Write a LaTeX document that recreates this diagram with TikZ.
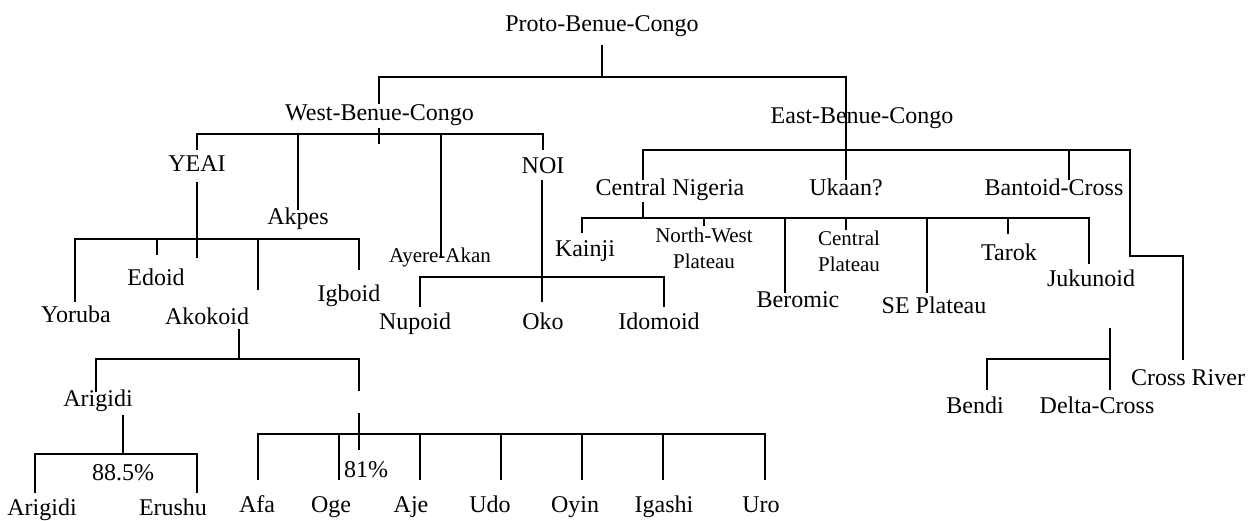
\documentclass[tikz,border=0pt]{standalone}
\usepackage{fontspec}
\setmainfont{Liberation Serif}
\begin{document}
\begin{tikzpicture}[x=1pt,y=-1pt,
  lbl/.style={font=\fontsize{24}{28}\selectfont,inner sep=0pt,anchor=base},
  sml/.style={font=\fontsize{21}{26}\selectfont,inner sep=0pt,anchor=base,align=center},
  branch/.style={draw=black,line width=1.8pt}]
\useasboundingbox (0,0) rectangle (1253,521);
% ---- text nodes
\node[lbl] (pbc) at (602,32) {Proto-Benue-Congo};
\node[lbl] (wbc) at (379.5,121) {West-Benue-Congo};
\node[lbl] (ebc) at (862,124) {East-Benue-Congo};
\node[lbl] (yeai) at (197,172) {YEAI};
\node[lbl] (noi) at (543,174) {NOI};
\node[lbl] (akpes) at (298,225) {Akpes};
\node[sml] (ayere) at (440,263) {Ayere-Akan};
\node[lbl] (cn) at (670,196) {Central Nigeria};
\node[lbl] (ukaan) at (846,196) {Ukaan?};
\node[lbl] (bc) at (1054,196) {Bantoid-Cross};
\node[lbl] (kainji) at (585,257) {Kainji};
\node[sml] (nwp) at (704,269) {North-West\\Plateau};
\node[lbl] (beromic) at (798,308) {Beromic};
\node[sml] (cp) at (849,272) {Central\\Plateau};
\node[lbl] (sep) at (934,314) {SE Plateau};
\node[lbl] (tarok) at (1009,261) {Tarok};
\node[lbl] (jukunoid) at (1091,287) {Jukunoid};
\node[lbl] (cr) at (1188,385) {Cross River};
\node[lbl] (bendi) at (975,413) {Bendi};
\node[lbl] (dc) at (1097,413) {Delta-Cross};
\node[lbl] (yoruba) at (76,323) {Yoruba};
\node[lbl] (edoid) at (156,286) {Edoid};
\node[lbl] (akokoid) at (207,325) {Akokoid};
\node[lbl] (igboid) at (349,302) {Igboid};
\node[lbl] (nupoid) at (415,330) {Nupoid};
\node[lbl] (oko) at (543,330) {Oko};
\node[lbl] (idomoid) at (659,330) {Idomoid};
\node[lbl] (arig) at (98,406) {Arigidi};
\node[lbl] (p885) at (123,480) {88.5\%};
\node[lbl] (p81) at (366,477) {81\%};
\node[lbl] (arig2) at (42,515) {Arigidi};
\node[lbl] (erushu) at (173,515) {Erushu};
\node[lbl] (afa) at (257,512) {Afa};
\node[lbl] (oge) at (331,512) {Oge};
\node[lbl] (aje) at (411,512) {Aje};
\node[lbl] (udo) at (490,512) {Udo};
\node[lbl] (oyin) at (575,512) {Oyin};
\node[lbl] (igashi) at (664,512) {Igashi};
\node[lbl] (uro) at (761,512) {Uro};
% ---- junction coordinates
\coordinate (pbcA) at (602,45);  \coordinate (pbcJ) at (602,77);
\coordinate (wbcT) at (379,104); \coordinate (ebcB) at (846,180);
\coordinate (wbcA) at (379,128); \coordinate (wbcB) at (379,144);
\coordinate (yeaiT) at (197,150); \coordinate (noiT) at (543,150);
\coordinate (wbcJ) at (197,134);
\coordinate (akpesJ) at (298,134); \coordinate (akpesT) at (298,210);
\coordinate (ayereJ) at (441,134); \coordinate (ayereT) at (441,258);
\coordinate (yeaiA) at (197,182); \coordinate (yeaiB) at (197,258);
\coordinate (yorT) at (75,302); \coordinate (igbT) at (359,270);
\coordinate (edJ) at (157,239); \coordinate (edT) at (157,255);
\coordinate (akJ) at (258,239); \coordinate (akT) at (258,290);
\coordinate (noiA) at (542,180); \coordinate (noiB) at (542,302);
\coordinate (noiJ) at (542,277);
\coordinate (nupT) at (420,307); \coordinate (idoT) at (664,307);
\coordinate (cnT) at (643,180); \coordinate (crJ) at (1130,256); \coordinate (crT) at (1183,360);
\coordinate (bcJ) at (1069,150); \coordinate (bcT) at (1069,180);
\coordinate (cnA) at (643,202); \coordinate (cnB) at (643,218);
\coordinate (kaT) at (582,233); \coordinate (juT) at (1089,264);
\coordinate (nwJ) at (704,218); \coordinate (nwT) at (704,226);
\coordinate (beJ) at (785,218); \coordinate (beT) at (785,293);
\coordinate (cpJ) at (846,218); \coordinate (cpT) at (846,230);
\coordinate (seJ) at (927,218); \coordinate (seT) at (927,293);
\coordinate (taJ) at (1008,218); \coordinate (taT) at (1008,234);
\coordinate (bdA) at (1110,328); \coordinate (bdB) at (1110,390);
\coordinate (bdJ) at (1110,359); \coordinate (beT2) at (987,390);
\coordinate (akoA) at (239,329); \coordinate (akoB) at (239,359);
\coordinate (ariT) at (96,392); \coordinate (rgT) at (359,391);
\coordinate (rgA) at (359,413); \coordinate (rgB) at (359,450);
\coordinate (lowJ) at (359,434);
\coordinate (ariA) at (123,415); \coordinate (ariB) at (123,454);
\coordinate (ar2T) at (35,493); \coordinate (eruT) at (197,493);
\coordinate (afaT) at (258,480); \coordinate (uroT) at (765,480);
% ---- connectors
\path[branch] (pbcA) -- (pbcJ);
\path[branch] (wbcT) |- (pbcJ) -| (ebcB);
\path[branch] (wbcA) -- (wbcB);
\path[branch] (yeaiT) -- (wbcJ) -| (noiT);
\path[branch] (akpesJ) -- (akpesT);
\path[branch] (ayereJ) -- (ayereT);
\path[branch] (yeaiA) -- (yeaiB);
\path[branch] (yorT) |- (edJ) -| (igbT);
\path[branch] (edJ) -- (edT);
\path[branch] (akJ) -- (akT);
\path[branch] (noiA) -- (noiB);
\path[branch] (nupT) |- (noiJ) -| (idoT);
\path[branch] (cnT) |- (bcJ) -| (crJ) -| (crT);
\path[branch] (bcJ) -- (bcT);
\path[branch] (cnA) -- (cnB);
\path[branch] (kaT) |- (cnB) -| (juT);
\path[branch] (nwJ) -- (nwT);
\path[branch] (beJ) -- (beT);
\path[branch] (cpJ) -- (cpT);
\path[branch] (seJ) -- (seT);
\path[branch] (taJ) -- (taT);
\path[branch] (bdA) -- (bdB);
\path[branch] (beT2) |- (bdJ);
\path[branch] (akoA) -- (akoB);
\path[branch] (ariT) |- (akoB) -| (rgT);
\path[branch] (rgA) -- (rgB);
\path[branch] (ariA) -- (ariB);
\path[branch] (ar2T) |- (ariB) -| (eruT);
\path[branch] (afaT) |- (lowJ) -| (uroT);
\foreach \x in {339,420,501,582,663} \path[branch] (\x,434) -- (\x,480);
\end{tikzpicture}
\end{document}
